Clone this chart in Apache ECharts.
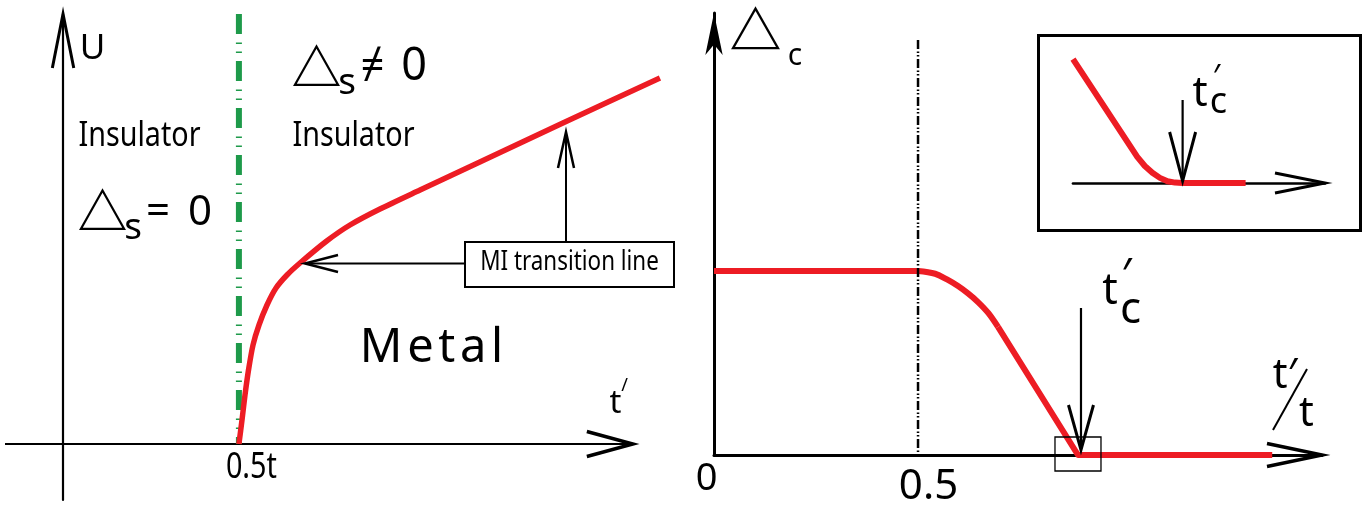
<!DOCTYPE html>
<html><head><meta charset="utf-8">
<script src="https://cdn.jsdelivr.net/npm/echarts@6/dist/echarts.min.js"></script>
<style>html,body{margin:0;padding:0;background:#fff}#c{width:1363px;height:507px}</style>
</head><body><div id="c"></div>
<script>
// ---- Left panel: MI transition line U(t') ----
const leftT = [0.5, 0.5088, 0.5173, 0.5273, 0.5401, 0.5571, 0.5799, 0.6055, 0.6367, 0.6737, 0.7496, 0.8158, 0.901, 1.015, 1.185, 1.421, 1.697];
const leftU = [0, 0.24, 0.49, 0.74, 0.99, 1.19, 1.39, 1.56, 1.69, 1.81, 2.03, 2.19, 2.35, 2.54, 2.82, 3.21, 3.66];
const boundaryT = 0.5;
const leftTickLabel = '0.5t';
// ---- Right panel: Delta_c vs t'/t ----
const rightT = [0, 0.5, 0.542, 0.571, 0.598, 0.6225, 0.647, 0.672, 0.696, 0.892, 1.368];
const rightD = [1, 1, 0.985, 0.954, 0.918, 0.878, 0.831, 0.772, 0.696, 0, 0];
const tcPrime = 0.892;
const rightTickValues = [0, 0.5];
const rightTickLabels = ['0', '0.5'];
// ---- Inset: zoom near t'_c ----
const insetT = [0.805, 0.856, 0.862, 0.868, 0.874, 0.880, 0.886, 0.892, 0.942];
const insetD = [0.218, 0.046, 0.030, 0.018, 0.009, 0.003, 0.0007, 0, 0];

const RED = '#ed1c24';
const FONT = '"Noto Sans", "DejaVu Sans", sans-serif';
const CJK = '"Noto Sans CJK SC", sans-serif';
const zip = (a, b) => a.map((v, i) => [v, b[i]]);
const hideAxis = { axisTick: { show: false }, axisLabel: { show: false }, splitLine: { show: false } };

const LX = { min: -0.165, max: 1.70 }, LY = { min: -0.56, max: 4.3 };
const LX_AXIS_END = 1.62;
const RX = { min: 0, max: 1.49 }, RY = { min: 0, max: 2.402 };
const IX = { min: 0.805, max: 1.005 }, IY = { min: 0, max: 0.25 };

const rightPts = zip(rightT, rightD);
const iCurveStart = rightT.indexOf(0.5), iCurveEnd = rightT.indexOf(0.696);

const chart = echarts.init(document.getElementById('c'), null, { renderer: 'canvas' });
const redLine = (xi, data, smooth, w) => ({ type: 'line', xAxisIndex: xi, yAxisIndex: xi, data, symbol: 'none', smooth, z: 3,
  lineStyle: { color: RED, width: w, join: 'round', cap: 'butt' } });
chart.setOption({
  animation: false,
  backgroundColor: '#fff',
  grid: [
    { left: 5, top: 14, width: 656, height: 486 },
    { left: 714, top: 13, width: 608, height: 442 },
    { left: 1073, top: 41, width: 252, height: 142 }
  ],
  xAxis: [
    Object.assign({ type: 'value', gridIndex: 0, ...LX, axisLine: { show: false } }, hideAxis),
    Object.assign({ type: 'value', gridIndex: 1, ...RX, axisLine: { onZero: true, lineStyle: { color: '#000', width: 3 } } }, hideAxis),
    Object.assign({ type: 'value', gridIndex: 2, ...IX, axisLine: { onZero: true, lineStyle: { color: '#000', width: 2.7 } } }, hideAxis)
  ],
  yAxis: [
    Object.assign({ type: 'value', gridIndex: 0, ...LY, axisLine: { onZero: true, lineStyle: { color: '#000', width: 2.2 } } }, hideAxis),
    Object.assign({ type: 'value', gridIndex: 1, ...RY, axisLine: { onZero: true, symbol: ['none', 'arrow'], symbolSize: [13, 42], lineStyle: { color: '#000', width: 3 } } }, hideAxis),
    Object.assign({ type: 'value', gridIndex: 2, ...IY, axisLine: { show: false } }, hideAxis)
  ],
  series: [
    { type: 'line', xAxisIndex: 0, yAxisIndex: 0, data: [[LX.min, 0], [LX_AXIS_END, 0]], symbol: 'none', z: 1, silent: true,
      lineStyle: { color: '#000', width: 2.2 } },
    { type: 'line', xAxisIndex: 0, yAxisIndex: 0, data: [[boundaryT, LY.max], [boundaryT, 0]], symbol: 'none', z: 2,
      lineStyle: { color: '#1e9a4a', width: 6, type: [20, 8.5, 1.5, 7.5, 1.5, 8] } },
    redLine(0, zip(leftT, leftU), 0.25, 5.5),
    redLine(1, rightPts.slice(0, iCurveStart + 1), false, 6),
    redLine(1, rightPts.slice(iCurveStart, iCurveEnd + 1), 0.35, 6),
    redLine(1, rightPts.slice(iCurveEnd), false, 6),
    { type: 'line', xAxisIndex: 1, yAxisIndex: 1, data: [[0.5, 2.255], [0.5, 0]], symbol: 'none', z: 4,
      lineStyle: { color: '#000', width: 2.5, type: [9, 2.5, 1.5, 2, 1.5, 2.5] } },
    Object.assign(redLine(2, zip(insetT, insetD), false, 6), { clip: false })
  ]
});

const px = (g, p) => chart.convertToPixel({ gridIndex: g }, p);
function txt(s, x, y, size, o = {}) {
  return { type: 'text', x, y, scaleX: o.sx || 1, silent: true, z: 100,
    style: { text: s, fontSize: size, fontFamily: o.ff || FONT, fontWeight: o.fw || 'normal', fill: '#000', align: 'center', verticalAlign: 'middle' } };
}
function seg(x1, y1, x2, y2, lw) {
  return { type: 'line', silent: true, z: 90, shape: { x1, y1, x2, y2 }, style: { stroke: '#000', lineWidth: lw } };
}
function rect(x, y, w, h, lw) {
  return { type: 'rect', silent: true, z: 90, shape: { x, y, width: w, height: h }, style: { stroke: '#000', fill: 'rgba(0,0,0,0)', lineWidth: lw } };
}
function head(tip, dir, len, half, lw) {
  const [x, y] = tip; let a, b;
  if (dir === 'right') { a = [x - len, y - half]; b = [x - len, y + half]; }
  if (dir === 'left') { a = [x + len, y - half]; b = [x + len, y + half]; }
  if (dir === 'up') { a = [x - half, y + len]; b = [x + half, y + len]; }
  if (dir === 'down') { a = [x - half, y - len]; b = [x + half, y - len]; }
  return { type: 'polyline', silent: true, z: 91, shape: { points: [a, [x, y], b] },
    style: { stroke: '#000', fill: null, lineWidth: lw, lineJoin: 'miter' } };
}

const LxEnd = px(0, [LX_AXIS_END, 0]), LyTop = px(0, [0, LY.max]), Lb = px(0, [boundaryT, 0]);
const RxEnd = px(1, [RX.max, 0]), Rtc = px(1, [tcPrime, 0]);
const IxEnd = px(2, [IX.max, 0]), Itc = px(2, [tcPrime, 0]);
const rTicks = rightTickValues.map(v => px(1, [v, 0]));
const miTarget = px(0, [leftT[9], leftU[9]]);
const TRI = { ff: CJK, fw: 'bold' };

chart.setOption({ graphic: [
  // left panel
  head(LxEnd, 'right', 46, 12.5, 3.5),
  head(LyTop, 'up', 54, 10.7, 3),
  rect(465, 242, 209, 45, 2),
  txt('MI transition line', 569.5, 262, 28, { sx: 0.8 }),
  seg(465, 263.5, miTarget[0] + 6, 263.5, 2),
  head([miTarget[0] + 5, 263.5], 'left', 33, 8.5, 2.5),
  seg(566, 242, 566, 134, 2),
  head([566, 132], 'up', 36, 8, 2.5),
  txt('U', 92.5, 49.5, 35),
  txt('Insulator', 139.5, 136.4, 35, { sx: 0.82 }),
  txt('Insulator', 353.5, 136.4, 35, { sx: 0.82 }),
  txt('△', 102.5, 211, 50, TRI),
  txt('s', 133, 228.6, 37),
  txt('=', 158, 212, 42),
  txt('0', 200, 212.7, 42),
  txt('△', 316.5, 67, 50, TRI),
  txt('s', 347, 83.6, 37),
  txt('≠', 372.5, 67, 42),
  txt('0', 414, 67.5, 45),
  txt('M\u200Ae\u200At\u200Aa\u200Al', 431.5, 348.5, 47),
  txt('t', 615.5, 404, 33),
  txt('/', 624.5, 386, 18),
  txt(leftTickLabel, Lb[0] + 12.5, 468, 36, { sx: 0.8 }),
  // right panel
  head(RxEnd, 'right', 55, 11.5, 3.5),
  rect(Rtc[0] - 23, Rtc[1] - 18, 46, 34, 1.3),
  seg(Rtc[0] + 3, 308, Rtc[0] + 3, 448, 2.2),
  head([Rtc[0] + 3, 450], 'down', 45, 12.5, 3),
  txt('△', 755.5, 30, 52, TRI),
  txt('c', 795, 56.4, 30),
  txt(rightTickLabels[0], rTicks[0][0] - 7.5, 479.3, 38),
  txt(rightTickLabels[1], rTicks[1][0] + 10.5, 486.7, 42),
  txt('t', 1110, 291.3, 43),
  txt('′', 1126.5, 276.7, 43),
  txt('c', 1130.5, 310, 44),
  txt('t′', 1285, 376, 41),
  seg(1273, 430, 1307, 369, 2),
  txt('t', 1306.5, 414, 41),
  // inset
  rect(1038.5, 35.5, 322, 195, 3),
  head(IxEnd, 'right', 50, 10, 3),
  seg(Itc[0], 100, Itc[0], 179, 2.2),
  head([Itc[0], 181], 'down', 49, 13, 3),
  txt('t', 1200, 93.7, 42),
  txt('′', 1216.5, 79, 32),
  txt('c', 1218.5, 103, 36)
] });
</script></body></html>
